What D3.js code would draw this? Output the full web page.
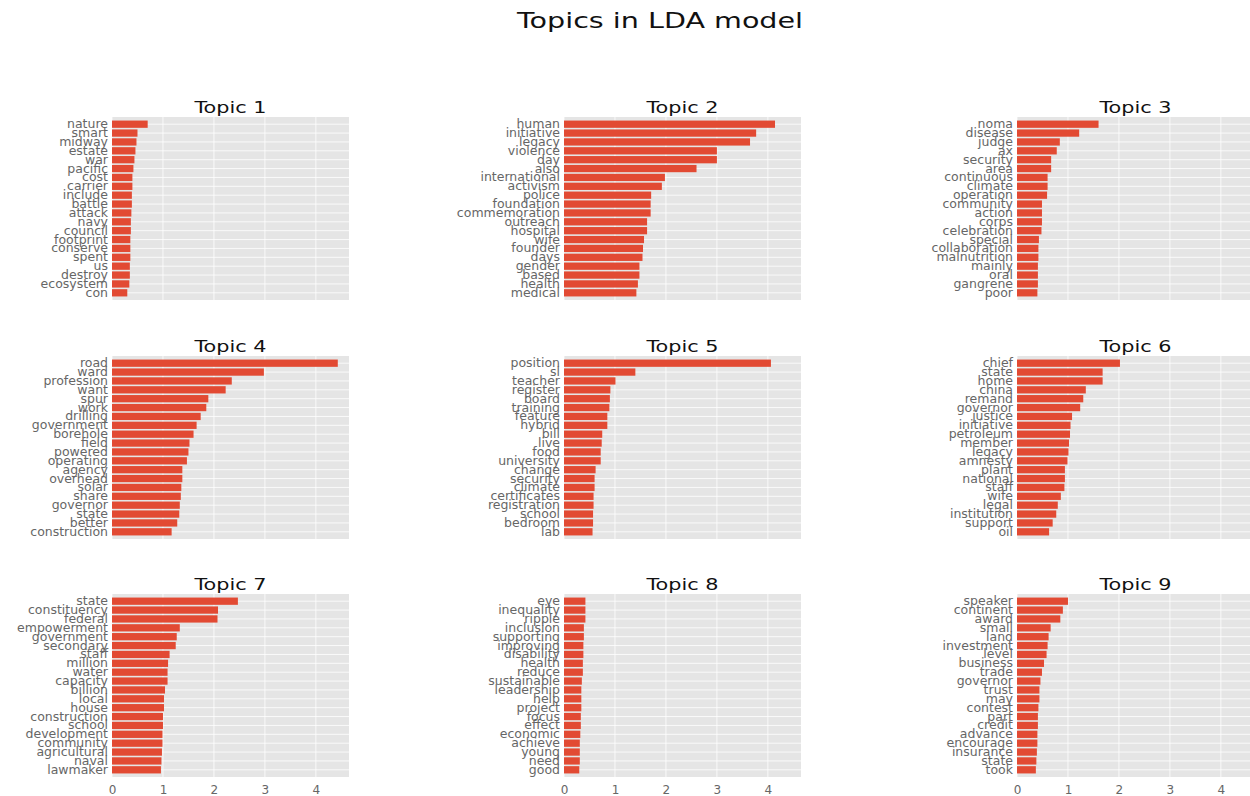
<!DOCTYPE html>
<html>
<head>
<meta charset="utf-8">
<script src="https://cdn.jsdelivr.net/npm/d3@7"></script>
<style>
  body { margin: 0; background: #fff; }
  svg { display: block; font-family: "DejaVu Sans", sans-serif; }
</style>
</head>
<body>
<svg id="chart" width="1250" height="796"></svg>
<script>
const topicTitles = ["Topic 1","Topic 2","Topic 3","Topic 4","Topic 5","Topic 6","Topic 7","Topic 8","Topic 9"];

const words1 = ["nature","smart","midway","estate","war","pacific","cost","carrier","include","battle","attack","navy","council","footprint","conserve","spent","us","destroy","ecosystem","con"];
const values1 = [0.70,0.50,0.48,0.46,0.44,0.42,0.40,0.40,0.39,0.39,0.38,0.37,0.37,0.36,0.36,0.36,0.35,0.35,0.34,0.30];

const words2 = ["human","initiative","legacy","violence","day","also","international","activism","police","foundation","commemoration","outreach","hospital","wife","founder","days","gender","based","health","medical"];
const values2 = [4.14,3.77,3.65,3.00,3.00,2.60,1.98,1.92,1.71,1.70,1.70,1.63,1.63,1.57,1.55,1.54,1.48,1.48,1.45,1.42];

const words3 = ["noma","disease","judge","ax","security","area","continuous","climate","operation","community","action","corps","celebration","special","collaboration","malnutrition","mainly","oral","gangrene","poor"];
const values3 = [1.60,1.22,0.84,0.78,0.67,0.67,0.60,0.60,0.59,0.49,0.49,0.49,0.48,0.43,0.42,0.42,0.41,0.41,0.41,0.40];

const words4 = ["road","ward","profession","want","spur","work","drilling","government","borehole","field","powered","operating","agency","overhead","solar","share","governor","state","better","construction"];
const values4 = [4.43,2.98,2.35,2.23,1.89,1.85,1.74,1.66,1.60,1.52,1.50,1.47,1.38,1.38,1.36,1.35,1.33,1.32,1.28,1.17];

const words5 = ["position","sl","teacher","register","board","training","feature","hybrid","bill","live","food","university","change","security","climate","certificates","registration","school","bedroom","lab"];
const values5 = [4.06,1.40,1.01,0.91,0.90,0.89,0.85,0.85,0.75,0.74,0.72,0.72,0.62,0.60,0.60,0.58,0.58,0.57,0.57,0.56];

const words6 = ["chief","state","home","china","remand","governor","justice","initiative","petroleum","member","legacy","amnesty","plant","national","staff","wife","legal","institution","support","oil"];
const values6 = [2.02,1.68,1.68,1.35,1.30,1.24,1.08,1.05,1.04,1.02,1.01,0.99,0.94,0.94,0.93,0.86,0.80,0.77,0.70,0.63];

const words7 = ["state","constituency","federal","empowerment","government","secondary","staff","million","water","capacity","billion","local","house","construction","school","development","community","agricultural","naval","lawmaker"];
const values7 = [2.47,2.08,2.07,1.33,1.27,1.25,1.13,1.10,1.09,1.09,1.04,1.02,1.02,1.00,1.00,0.99,0.99,0.98,0.97,0.96];

const words8 = ["eye","inequality","ripple","inclusion","supporting","improving","disability","health","reduce","sustainable","leadership","help","project","focus","effect","economic","achieve","young","need","good"];
const values8 = [0.42,0.42,0.42,0.39,0.39,0.38,0.38,0.37,0.37,0.35,0.34,0.34,0.34,0.33,0.33,0.32,0.31,0.31,0.31,0.30];

const words9 = ["speaker","continent","award","small","land","investment","level","business","trade","governor","trust","may","contest","part","credit","advance","encourage","insurance","state","took"];
const values9 = [1.00,0.90,0.85,0.66,0.62,0.60,0.58,0.53,0.49,0.46,0.44,0.44,0.42,0.41,0.41,0.40,0.40,0.39,0.38,0.37];

const xTicks = [0,1,2,3,4];
const xMax = 4.65;

const allWords = [words1,words2,words3,words4,words5,words6,words7,words8,words9];
const allValues = [values1,values2,values3,values4,values5,values6,values7,values8,values9];

const svg = d3.select("#chart");

// main title (horizontally stretched like the reference)
svg.append("g").attr("transform", "translate(660,28) scale(1.3,1)")
  .append("text")
  .attr("text-anchor", "middle")
  .attr("font-size", 22)
  .attr("fill", "#111")
  .text("Topics in LDA model");

const colLeft = [112, 564, 1017];
const rowTop = [117, 356, 594];
const pw = 237, ph = 183;

const x = d3.scaleLinear().domain([0, xMax]).range([0, pw]);

for (let i = 0; i < 9; i++) {
  const r = Math.floor(i / 3), c = i % 3;
  const g = svg.append("g").attr("transform", `translate(${colLeft[c]},${rowTop[r]})`);
  const words = allWords[i], vals = allValues[i];
  const y = d3.scaleBand().domain(words).range([0, ph]).paddingInner(0.18).paddingOuter(0.4);

  g.append("rect").attr("width", pw).attr("height", ph).attr("fill", "#E5E5E5");

  g.selectAll("line.vg").data(xTicks).join("line")
    .attr("x1", d => x(d)).attr("x2", d => x(d))
    .attr("y1", 0).attr("y2", ph)
    .attr("stroke", "#fff").attr("stroke-width", 0.8);
  g.selectAll("line.hg").data(words).join("line")
    .attr("x1", 0).attr("x2", pw)
    .attr("y1", d => y(d) + y.bandwidth() / 2).attr("y2", d => y(d) + y.bandwidth() / 2)
    .attr("stroke", "#fff").attr("stroke-width", 0.8);

  g.selectAll("rect.bar").data(words).join("rect")
    .attr("class", "bar")
    .attr("x", 0)
    .attr("y", d => y(d))
    .attr("width", (d, j) => x(vals[j]))
    .attr("height", y.bandwidth())
    .attr("fill", "#E24A33");

  const ya = g.append("g").call(d3.axisLeft(y).tickSize(0).tickPadding(4));
  ya.select(".domain").remove();
  ya.selectAll("text").attr("font-size", 12.5).attr("fill", "#666")
    .attr("font-family", "DejaVu Sans, sans-serif");

  g.append("g").attr("transform", `translate(${pw / 2},-4) scale(1.3,1)`)
    .append("text")
    .attr("text-anchor", "middle")
    .attr("font-size", 16)
    .attr("fill", "#111")
    .text(topicTitles[i]);

  if (r === 2) {
    const xa = g.append("g").attr("transform", `translate(0,${ph})`)
      .call(d3.axisBottom(x).tickValues(xTicks).tickSize(0).tickPadding(8).tickFormat(d3.format("d")));
    xa.select(".domain").remove();
    xa.selectAll("text").attr("font-size", 12).attr("fill", "#666")
      .attr("font-family", "DejaVu Sans, sans-serif");
  }
}
</script>
</body>
</html>
